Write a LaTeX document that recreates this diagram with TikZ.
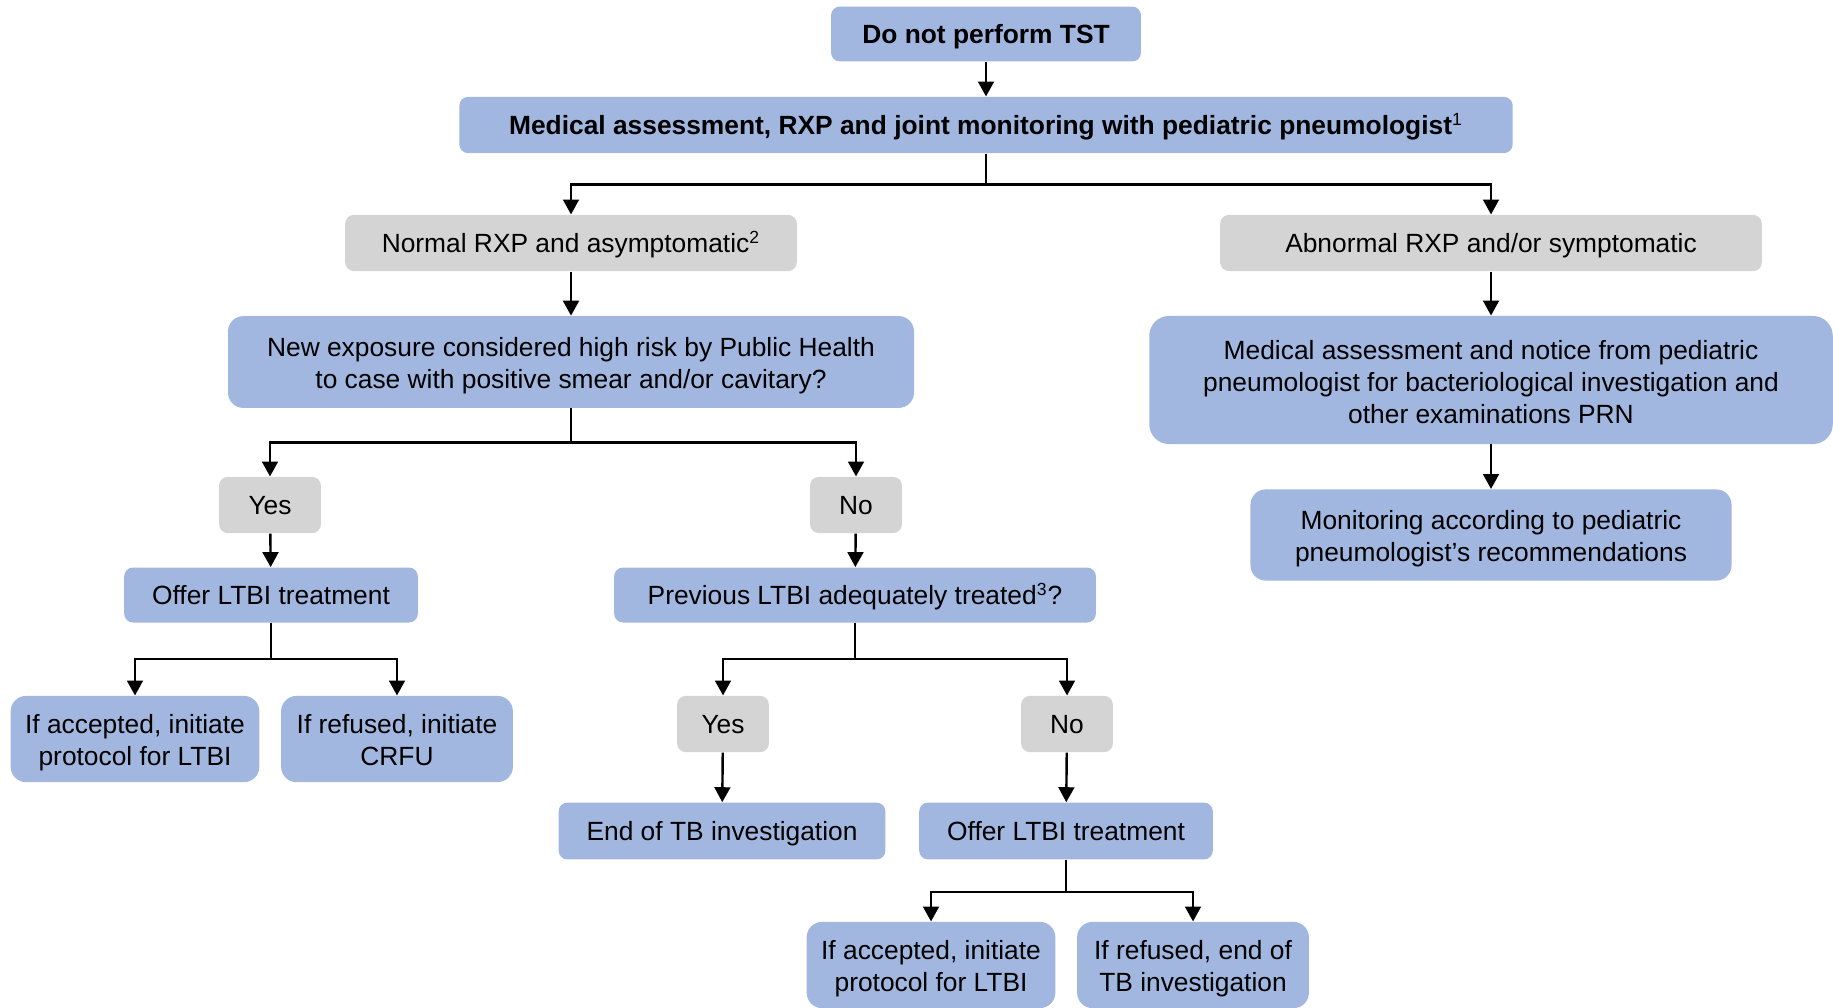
\documentclass[tikz,border=0pt]{standalone}
\usepackage{fontspec}
\setmainfont{Liberation Sans}
\usepackage{tikz}
\usetikzlibrary{arrows.meta}
\usepackage{xcolor}
\definecolor{boxblue}{RGB}{161,183,224}
\definecolor{boxgray}{RGB}{212,212,212}

\begin{document}
\begin{tikzpicture}[x=0.016cm, y=-0.016cm,
    bluebox/.style={rectangle, rounded corners=4pt, fill=boxblue, align=center, inner sep=0pt, font=\fontsize{12}{14.6}\selectfont, execute at begin node={\rule[-2.6pt]{0pt}{14.2pt}}},
    graybox/.style={bluebox, fill=boxgray},
    twolines/.style={rounded corners=7pt, execute at begin node={\rule{0pt}{26.4pt}}},
    threelines/.style={rounded corners=9pt, execute at begin node={\rule{0pt}{42.5pt}}},
    arr/.style={-{Triangle[length=6.8pt,width=7.2pt]}, line width=1.1pt}]
            \useasboundingbox (0,0) rectangle (1833,1007);
            % Top of the chart
            \node[bluebox, minimum width=4.96cm, minimum height=0.88cm] (tst) at (986,34) {\textbf{Do not perform TST}};
            \node[bluebox, minimum width=16.86cm, minimum height=0.9cm] (medical) at (986,125) {\textbf{Medical assessment, RXP and joint monitoring with pediatric pneumologist}\textsuperscript{1}};
            
            % Two outcomes of the X-ray
            \node[graybox, minimum width=7.23cm, minimum height=0.9cm] (normal) at (571,243) {Normal RXP and asymptomatic\textsuperscript{2}};
            \node[graybox, minimum width=8.67cm, minimum height=0.9cm] (abnormal) at (1491,243) {Abnormal RXP and/or symptomatic};
            
            % Right branch
            \node[bluebox, threelines, minimum width=10.94cm, minimum height=2.05cm] (notice) at (1491,380) {Medical assessment and notice from pediatric\\pneumologist for bacteriological investigation and\\other examinations PRN};
            \node[bluebox, twolines, minimum width=7.7cm, minimum height=1.46cm] (monitor) at (1491,535) {Monitoring according to pediatric\\pneumologist's recommendations};
            
            % Left branch
            \node[bluebox, twolines, minimum width=10.98cm, minimum height=1.47cm] (exposure) at (571,362) {New exposure considered high risk by Public Health\\to case with positive smear and/or cavitary?};
            \node[graybox, minimum width=1.63cm, minimum height=0.9cm] (yesA) at (270,505) {Yes};
            \node[graybox, minimum width=1.47cm, minimum height=0.9cm] (noA) at (856,505) {No};
            \node[bluebox, minimum width=4.7cm, minimum height=0.88cm] (offerA) at (271,595) {Offer LTBI treatment};
            \node[bluebox, minimum width=7.71cm, minimum height=0.88cm] (previous) at (855,595) {Previous LTBI adequately treated\textsuperscript{3}?};
            \node[bluebox, twolines, minimum width=3.98cm, minimum height=1.38cm] (acceptA) at (135,739) {If accepted, initiate\\protocol for LTBI};
            \node[bluebox, twolines, minimum width=3.71cm, minimum height=1.38cm] (refuseA) at (397,739) {If refused, initiate\\CRFU};
            \node[graybox, minimum width=1.47cm, minimum height=0.9cm] (yesB) at (723,724) {Yes};
            \node[graybox, minimum width=1.47cm, minimum height=0.9cm] (noB) at (1067,724) {No};
            \node[bluebox, minimum width=5.23cm, minimum height=0.91cm] (endtb) at (722,831) {End of TB investigation};
            \node[bluebox, minimum width=4.7cm, minimum height=0.91cm] (offerB) at (1066,831) {Offer LTBI treatment};
            \node[bluebox, twolines, minimum width=3.98cm, minimum height=1.38cm] (acceptB) at (931,965) {If accepted, initiate\\protocol for LTBI};
            \node[bluebox, twolines, minimum width=3.71cm, minimum height=1.38cm] (refuseB) at (1193,965) {If refused, end of\\TB investigation};
            
            % Connectors
            \draw[arr] (tst) -- (medical);
            \draw[arr] (medical.south) -- ++(0,31) -| (normal.north);
            \draw[arr] (medical.south) -- ++(0,31) -| (abnormal.north);
            \draw[arr] (abnormal) -- (notice);
            \draw[arr] (notice) -- (monitor);
            \draw[arr] (normal) -- (exposure);
            \draw[arr] (exposure.south) -- ++(0,34) -| (yesA.north);
            \draw[arr] (exposure.south) -- ++(0,34) -| (noA.north);
            \draw[arr] (yesA) -- (offerA);
            \draw[arr] (noA) -- (previous);
            \draw[arr] (offerA.south) -- ++(0,36) -| (acceptA.north);
            \draw[arr] (offerA.south) -- ++(0,36) -| (refuseA.north);
            \draw[arr] (previous.south) -- ++(0,36) -| (yesB.north);
            \draw[arr] (previous.south) -- ++(0,36) -| (noB.north);
            \draw[arr] (yesB) -- (endtb);
            \draw[arr] (noB) -- (offerB);
            \draw[arr] (offerB.south) -- ++(0,32) -| (acceptB.north);
            \draw[arr] (offerB.south) -- ++(0,32) -| (refuseB.north);
        \end{tikzpicture}
\end{document}
